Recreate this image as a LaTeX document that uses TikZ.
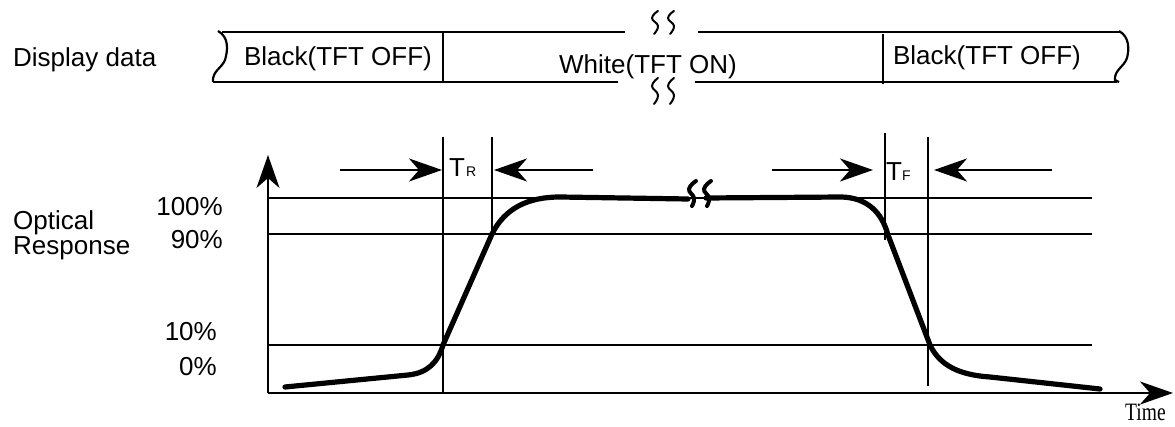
\documentclass[tikz,border=0pt]{standalone}
\usepackage{fontspec}
\setmainfont{Liberation Sans}
\newfontfamily\timesf{Liberation Serif}
\usetikzlibrary{arrows.meta}
\tikzset{
  thinl/.style={line width=2.6pt},
  barl/.style={line width=2.2pt},
  curvel/.style={line width=5.2pt, line cap=round, line join=round},
  darr/.style={line width=2.6pt, -{Stealth[length=33pt,width=23pt,inset=10pt]}},
  axarr/.style={line width=2.6pt, -{Stealth[length=33pt,width=23pt,inset=10pt]}},
  lbl/.style={font=\fontsize{26}{30}\selectfont, inner sep=0pt},
  sub/.style={font=\fontsize{14}{16}\selectfont, inner sep=0pt},
  squig/.style={line width=2pt, line cap=round},
  brk/.style={line width=4pt, line cap=round},
}
\begin{document}
\begin{tikzpicture}[x=1pt,y=-1pt]
\useasboundingbox (0,0) rectangle (1175,427);
% ---------- Display data bar ----------
\node[lbl, anchor=base west] (dd) at (13,67) {Display data};
\draw[barl] (222,32) -- (625,32);
\draw[barl] (213,82) -- (618,82);
\draw[barl] (698,32) -- (1120,32);
\draw[barl] (695,82) -- (1117,82);
\draw[barl] (218,31) .. controls (229,37) and (228,50) .. (225,60) .. controls (222,68) and (212,71) .. (213,82);
\draw[barl] (1119,31) .. controls (1130,37) and (1129,50) .. (1127,58) .. controls (1124,67) and (1114,70) .. (1115,80) -- (1119,82);
\draw[barl] (443,32) -- (443,82);
\draw[barl] (883,34) -- (883,84);
\node[lbl, anchor=base] (b1) at (338,66) {Black(TFT OFF)};
\node[lbl, anchor=base] (w1) at (648,74) {White(TFT ON)};
\node[lbl, anchor=base] (b2) at (987,65) {Black(TFT OFF)};
% break marks on bar
\foreach \xx in {651,667}{
  \draw[squig] plot[smooth, tension=0.8] coordinates {(\xx+7,11) (\xx+1,18) (\xx+7,26) (\xx+3,34)};
  \draw[squig] plot[smooth, tension=0.8] coordinates {(\xx+7,78) (\xx+1,86) (\xx+7,95) (\xx+3,104)};
}
% ---------- Chart ----------
\coordinate (O) at (268,393);
\coordinate (Ytip) at (268,155);
\coordinate (Xtip) at (1173,393);
\draw[thinl] (268,198) -- (1092,198);
\draw[thinl] (268,234) -- (1092,234);
\draw[thinl] (268,345) -- (1092,345);
\draw[axarr] (O) -- (Ytip);
\draw[axarr] (O) -- (Xtip);
% verticals
\draw[thinl] (443,137) -- (443,393);
\draw[thinl] (492,137) -- (492,236);
\draw[thinl] (885,133) -- (885,240);
\draw[thinl] (928,137) -- (928,386);
% TR / TF arrows
\coordinate (a1s) at (340,170); \coordinate (a1e) at (442,170);
\coordinate (a2s) at (593,170); \coordinate (a2e) at (494,170);
\coordinate (a3s) at (772,170); \coordinate (a3e) at (873,170);
\coordinate (a4s) at (1052,170); \coordinate (a4e) at (934,170);
\draw[darr] (a1s) -- (a1e);
\draw[darr] (a2s) -- (a2e);
\draw[darr] (a3s) -- (a3e);
\draw[darr] (a4s) -- (a4e);
\node[lbl, anchor=base west] (tr) at (449,177) {T};
\node[sub, anchor=base west] (trs) at (466,177) {R};
\node[lbl, anchor=base west] (tf) at (886,181) {T};
\node[sub, anchor=base west] (tfs) at (902,181) {F};
% labels
\node[lbl, anchor=base west] (op) at (13,230) {Optical};
\node[lbl, anchor=base west] (rs) at (13,255) {Response};
\node[lbl, anchor=base east] (p100) at (223,216) {100\%};
\node[lbl, anchor=base east] (p90) at (223,249) {90\%};
\node[lbl, anchor=base east] (p10) at (217,341) {10\%};
\node[lbl, anchor=base east] (p0) at (217,375) {0\%};
\node[inner sep=0pt, anchor=base west] (tm) at (1125,420) {\scalebox{0.78}[1]{\timesf\fontsize{25}{28}\selectfont Time}};
% response curve
\draw[curvel] (285,387) -- (408,375)
  .. controls (428,373) and (438,362) .. (443,345)
  -- (492,234)
  .. controls (505,208) and (528,197) .. (560,197)
  -- (688,199);
\draw[curvel] (706,198) -- (842,197)
  .. controls (868,198) and (882,213) .. (888,235)
  -- (930,345)
  .. controls (940,366) and (960,375) .. (990,377)
  -- (1100,389);
% break on plateau
\foreach \xx in {688,703}{
  \draw[brk] plot[smooth, tension=0.8] coordinates {(\xx+8,181) (\xx+1,189) (\xx+6,198) (\xx+4,206)};
}
\end{tikzpicture}
\end{document}
